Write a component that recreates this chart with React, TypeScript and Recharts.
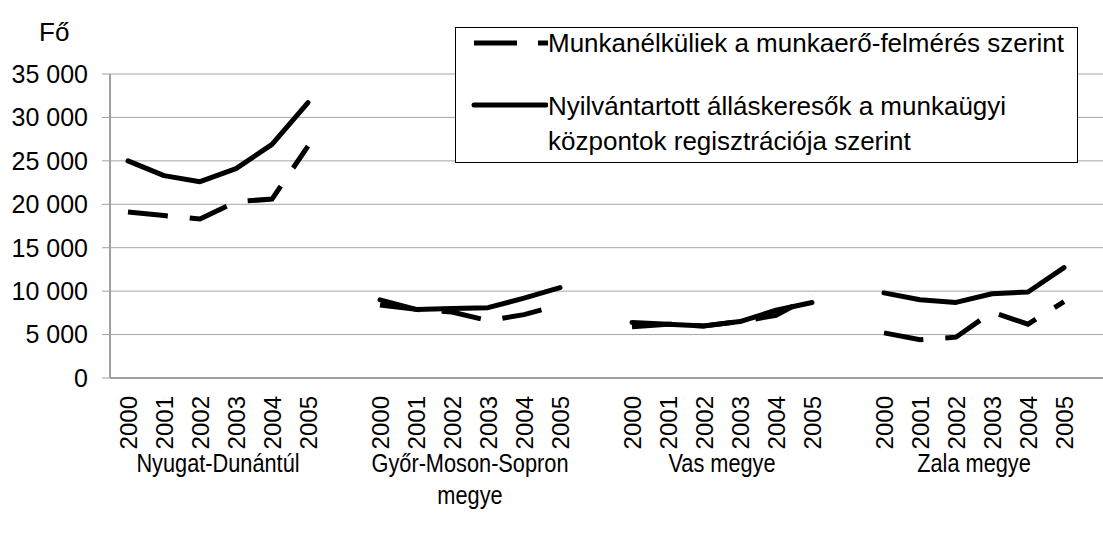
import { LineChart, Line, XAxis, YAxis, CartesianGrid, Legend } from "recharts";

const years = ["2000", "2001", "2002", "2003", "2004", "2005"];
const regions = ["Nyugat-Dunántúl", "Győr-Moson-Sopron megye", "Vas megye", "Zala megye"];

// Munkanélküliek a munkaerő-felmérés szerint
const surveyNyugat = [19100, 18700, 18300, 20300, 20600, 26700];
const surveyGyor = [8400, 7900, 7600, 6600, 7300, 8400];
const surveyVas = [5900, 6200, 6000, 6500, 7200, 9500];
const surveyZala = [5200, 4400, 4700, 7600, 6200, 8800];

// Nyilvántartott álláskeresők
const registeredNyugat = [25000, 23300, 22600, 24100, 26900, 31700];
const registeredGyor = [9000, 7900, 8000, 8100, 9200, 10400];
const registeredVas = [6400, 6200, 6000, 6500, 7800, 8700];
const registeredZala = [9800, 9000, 8700, 9700, 9900, 12700];

const yTicks = [0, 5000, 10000, 15000, 20000, 25000, 30000, 35000];

const surveyLabel = "Munkanélküliek a munkaerő-felmérés szerint";
const registeredLabel = "Nyilvántartott álláskeresők a munkaügyi központok regisztrációja szerint";

const surveyByRegion = [surveyNyugat, surveyGyor, surveyVas, surveyZala];
const registeredByRegion = [registeredNyugat, registeredGyor, registeredVas, registeredZala];

// one empty category between the regions so the lines break
const data: any[] = [];
regions.forEach((region, r) => {
  if (r > 0) data.push({ key: `gap${r}`, survey: null, registered: null });
  years.forEach((year, i) => {
    data.push({
      key: `${region}|${year}`,
      survey: surveyByRegion[r][i],
      registered: registeredByRegion[r][i],
    });
  });
});

const FONT = "'Liberation Sans', Arial, sans-serif";

const fmt = (v: number) => (v === 0 ? "0" : `${Math.floor(v / 1000)} 000`);

function YearTick(props: any) {
  const { x, y, payload } = props;
  const value: string = payload.value;
  if (!value.includes("|")) return null;
  const [region, year] = value.split("|");
  const groupLines = region === "Győr-Moson-Sopron megye" ? ["Győr-Moson-Sopron", "megye"] : [region];
  const top = y + 10;
  const cx = x + 18;
  return (
    <g>
      <text
        x={x}
        y={top}
        transform={`rotate(-90, ${x}, ${top})`}
        textAnchor="end"
        dy="0.36em"
        fontSize={24}
        fontFamily={FONT}
        fill="#000"
      >
        {year}
      </text>
      {year === "2002" && (
        // the category names are drawn condensed in the original
        <g transform={`translate(${cx}, ${y + 86}) scale(0.87, 1)`}>
          <text x={0} y={0} textAnchor="middle" fontSize={25} fontFamily={FONT} fill="#000">
            {groupLines.map((line, i) => (
              <tspan key={i} x={0} dy={i === 0 ? 0 : 32}>
                {line}
              </tspan>
            ))}
          </text>
        </g>
      )}
    </g>
  );
}

function FoLabel(props: any) {
  const { viewBox } = props;
  return (
    <text x={viewBox.x + 39} y={viewBox.y - 33} fontSize={26} fontFamily={FONT} fill="#000">
      Fő
    </text>
  );
}

function LegendBox() {
  return (
    <div
      style={{
        position: "relative",
        width: 623,
        height: 136,
        border: "1px solid #000",
        background: "#fff",
        boxSizing: "border-box",
        fontFamily: FONT,
        fontSize: 26,
        color: "#000",
      }}
    >
      <svg width={90} height={10} style={{ position: "absolute", left: 2, top: 10 }}>
        <line x1={16} y1={5} x2={92} y2={5} stroke="#000" strokeWidth={5} strokeDasharray="43 21" />
      </svg>
      <div style={{ position: "absolute", left: 92, top: 0, lineHeight: "30px", whiteSpace: "nowrap" }}>
        {surveyLabel}
      </div>
      <svg width={90} height={10} style={{ position: "absolute", left: 2, top: 72 }}>
        <line x1={16} y1={5} x2={88} y2={5} stroke="#000" strokeWidth={5} strokeLinecap="round" />
      </svg>
      <div style={{ position: "absolute", left: 92, top: 61, lineHeight: "35px", width: 500 }}>
        {registeredLabel}
      </div>
    </div>
  );
}

export default function App() {
  return (
    <div style={{ position: "absolute", left: 0, top: 0, width: 1103, height: 533, background: "#fff" }}>
      <LineChart width={1103} height={533} data={data} margin={{ top: 74, right: 0, bottom: 0, left: 0 }}>
        <CartesianGrid vertical={false} stroke="#a6a6a6" strokeWidth={1} />
        <XAxis
          dataKey="key"
          interval={0}
          height={155}
          padding={{ left: 18, right: 39 }}
          axisLine={{ stroke: "#a0a0a0", strokeWidth: 2 }}
          tickLine={false}
          tick={<YearTick />}
        />
        <YAxis
          width={110}
          domain={[0, 35000]}
          ticks={yTicks}
          tickFormatter={fmt}
          interval={0}
          axisLine={{ stroke: "#a0a0a0", strokeWidth: 2 }}
          tickLine={{ stroke: "#a0a0a0" }}
          tickSize={8}
          tickMargin={14}
          tick={{ fontSize: 25, fontFamily: FONT, fill: "#000" }}
          label={<FoLabel />}
        />
        <Legend
          layout="vertical"
          align="center"
          verticalAlign="middle"
          wrapperStyle={{ left: 455, top: 27, width: 623, height: 136 }}
          content={<LegendBox />}
        />
        <Line
          type="linear"
          dataKey="survey"
          name={surveyLabel}
          stroke="#000"
          strokeWidth={5}
          strokeDasharray="40 22"
          dot={false}
          connectNulls={false}
          isAnimationActive={false}
        />
        <Line
          type="linear"
          dataKey="registered"
          name={registeredLabel}
          stroke="#000"
          strokeWidth={5}
          strokeLinecap="round"
          strokeLinejoin="round"
          dot={false}
          connectNulls={false}
          isAnimationActive={false}
        />
      </LineChart>
    </div>
  );
}
